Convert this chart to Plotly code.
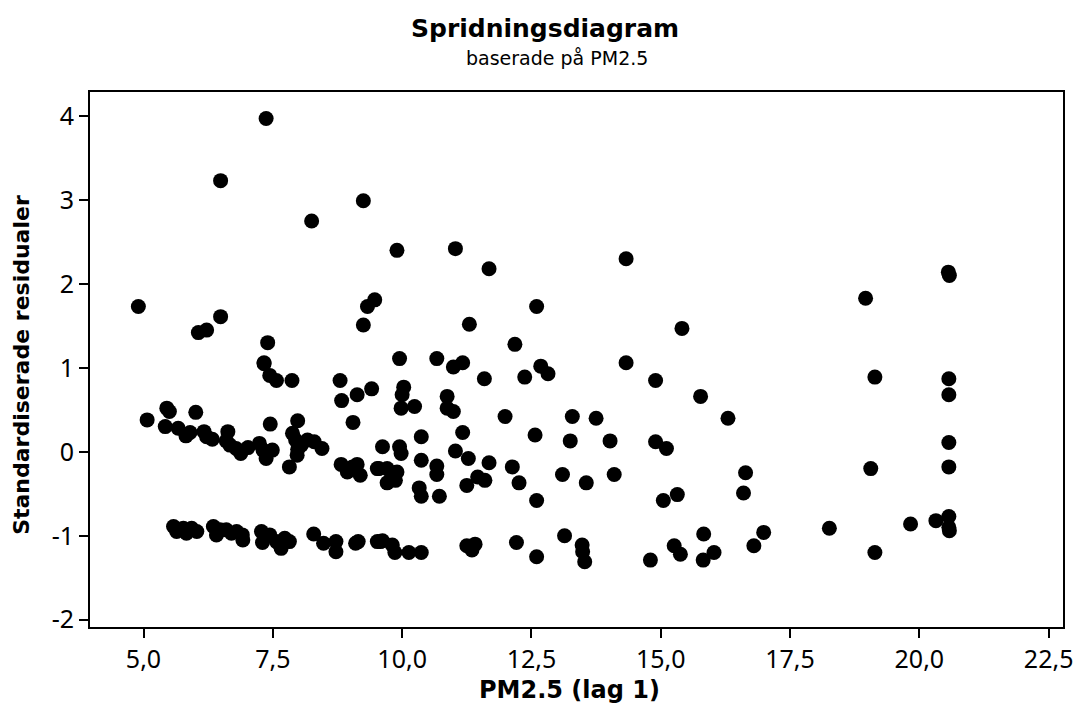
import plotly.graph_objects as go

# PM2.5 (lag 1) values and standardized residuals
pm25 = [
    7.37, 6.49, 9.25, 8.25, 4.90, 6.49, 6.06, 6.22, 7.40, 7.33, 9.25, 9.33, 9.47,
    9.90, 11.03, 11.68, 14.33, 12.60, 11.30, 15.41, 12.18, 9.95, 10.67, 11.17, 10.99,
    12.68, 12.82, 14.33, 20.56, 20.58, 18.96,
    19.14, 20.57, 20.57, 15.77, 16.30, 20.57, 20.57, 19.06, 16.64, 16.60,
    20.57, 20.32, 20.57, 20.58, 19.83, 18.26, 16.99, 16.80, 15.83, 16.03, 15.82, 19.14,
    11.59, 12.37, 14.90,
    10.03, 10.00, 9.98, 10.24, 10.87, 10.87, 10.99, 11.99, 13.29, 13.75, 11.17, 12.57,
    13.25, 14.02, 14.90, 15.11, 10.37, 9.62, 9.95, 9.98, 11.03, 10.37, 11.28, 10.67,
    10.67, 11.68, 12.13, 9.55, 9.71, 9.90, 9.81, 9.71, 9.87, 13.10, 14.10, 11.46,
    11.60, 11.25, 12.26, 13.56, 10.33, 10.37, 10.72, 12.60, 15.32, 15.05,
    9.58, 9.62, 9.81, 9.86, 10.13, 10.37, 11.25, 11.41, 11.35, 12.21, 12.60, 13.14,
    13.48, 13.49, 13.53, 14.80, 15.26, 15.38,
    7.33, 7.44, 7.57, 7.87, 8.80, 8.83, 9.13, 9.41, 9.05, 5.07, 5.45, 5.50, 6.01,
    5.42, 5.67, 5.82, 5.90, 6.17, 6.33, 6.22, 6.63, 6.60, 6.67, 6.79, 6.88, 7.02,
    7.24, 7.31, 7.37, 7.49, 7.45, 7.98, 7.88, 7.94, 7.98, 8.05, 8.17, 8.30, 8.45,
    7.97, 7.82, 8.82, 8.94, 9.13, 9.19, 9.04, 9.52,
    5.58, 5.64, 5.77, 5.83, 5.93, 6.03, 6.35, 6.41, 6.48, 6.60, 6.70, 6.80, 6.91, 6.92,
    7.28, 7.30, 7.44, 7.57, 7.66, 7.73, 7.82, 8.29, 8.48, 8.72, 8.72, 9.10, 9.15, 9.52,
]
residuals = [
    3.97, 3.23, 2.99, 2.75, 1.73, 1.61, 1.42, 1.45, 1.30, 1.06, 1.51, 1.73, 1.81,
    2.40, 2.42, 2.18, 2.30, 1.73, 1.52, 1.47, 1.28, 1.11, 1.11, 1.06, 1.01,
    1.02, 0.93, 1.06, 2.14, 2.10, 1.83,
    0.89, 0.87, 0.68, 0.66, 0.40, 0.11, -0.18, -0.20, -0.25, -0.49,
    -0.77, -0.82, -0.90, -0.94, -0.86, -0.91, -0.96, -1.12, -0.98, -1.20, -1.29, -1.20,
    0.87, 0.89, 0.85,
    0.77, 0.68, 0.52, 0.54, 0.66, 0.52, 0.48, 0.42, 0.42, 0.40, 0.23, 0.20,
    0.13, 0.13, 0.12, 0.04, 0.18, 0.06, 0.06, -0.02, 0.01, -0.10, -0.08, -0.17,
    -0.27, -0.13, -0.18, -0.20, -0.20, -0.24, -0.28, -0.37, -0.34, -0.27, -0.27, -0.30,
    -0.34, -0.40, -0.37, -0.37, -0.43, -0.53, -0.53, -0.58, -0.51, -0.58,
    -1.07, -1.06, -1.11, -1.20, -1.20, -1.20, -1.12, -1.10, -1.17, -1.08, -1.25, -1.00,
    -1.11, -1.19, -1.31, -1.29, -1.12, -1.22,
    1.05, 0.91, 0.85, 0.85, 0.85, 0.61, 0.68, 0.75, 0.35, 0.38, 0.52, 0.48, 0.47,
    0.30, 0.28, 0.19, 0.23, 0.24, 0.15, 0.18, 0.24, 0.13, 0.08, 0.04, -0.02, 0.05,
    0.10, 0.02, -0.08, 0.02, 0.33, 0.37, 0.22, 0.14, 0.03, 0.08, 0.14, 0.12, 0.04,
    -0.04, -0.18, -0.15, -0.24, -0.15, -0.28, -0.18, -0.20,
    -0.89, -0.95, -0.91, -0.97, -0.91, -0.95, -0.89, -0.99, -0.93, -0.93, -0.97, -0.95, -0.99, -1.05,
    -0.95, -1.08, -0.99, -1.07, -1.15, -1.03, -1.07, -0.98, -1.09, -1.07, -1.19, -1.09, -1.07, -1.07,
]

x_ticks = [5.0, 7.5, 10.0, 12.5, 15.0, 17.5, 20.0, 22.5]
x_tick_labels = ["5,0", "7,5", "10,0", "12,5", "15,0", "17,5", "20,0", "22,5"]
y_ticks = [-2, -1, 0, 1, 2, 3, 4]
y_tick_labels = ["-2", "-1", "0", "1", "2", "3", "4"]

title_font = "DejaVu Sans, Verdana, sans-serif"
tick_font = "Noto Sans, Open Sans, sans-serif"

fig = go.Figure(
    go.Scatter(
        x=pm25,
        y=residuals,
        mode="markers",
        marker=dict(color="black", size=15, line=dict(width=0)),
        showlegend=False,
    )
)

# page body has an 8px margin, so the figure is sized/margined to compensate
fig.update_layout(
    width=1077,
    height=701,
    margin=dict(l=82, r=17, t=84, b=82),
    paper_bgcolor="white",
    plot_bgcolor="white",
    font=dict(family=tick_font, color="black", size=24),
)

fig.add_annotation(text="<b>Spridningsdiagram</b>", xref="paper", yref="paper",
                   x=0.468, y=1.0, yshift=64, xanchor="center", yanchor="middle",
                   showarrow=False, font=dict(size=25, family=title_font, color="black"))
fig.add_annotation(text="baserade på PM2.5", xref="paper", yref="paper",
                   x=0.48, y=1.0, yshift=34, xanchor="center", yanchor="middle",
                   showarrow=False, font=dict(size=19, family=title_font, color="black"))
fig.add_annotation(text="<b>PM2.5 (lag 1)</b>", xref="paper", yref="paper",
                   x=0.493, y=0.0, yshift=-63, xanchor="center", yanchor="middle",
                   showarrow=False, font=dict(size=24, family=title_font, color="black"))
fig.add_annotation(text="<b>Standardiserade residualer</b>", xref="paper", yref="paper",
                   x=0.0, xshift=-68, y=0.49, xanchor="center", yanchor="middle",
                   textangle=-90,
                   showarrow=False, font=dict(size=22, family=title_font, color="black"))

fig.update_xaxes(
    range=[3.965, 22.777],
    tickmode="array",
    tickvals=x_ticks,
    ticktext=x_tick_labels,
    ticks="outside", ticklen=9, tickwidth=1.5, tickcolor="black",
    showline=True, linecolor="black", linewidth=2, mirror=True,
    showgrid=False, zeroline=False,
    tickfont=dict(size=25, family=tick_font, color="black"),
)
fig.update_yaxes(
    range=[-2.087, 4.286],
    tickmode="array",
    tickvals=y_ticks,
    ticktext=y_tick_labels,
    ticks="outside", ticklen=9, tickwidth=1.5, tickcolor="black",
    showline=True, linecolor="black", linewidth=2, mirror=True,
    showgrid=False, zeroline=False,
    tickfont=dict(size=25, family=tick_font, color="black"),
)

fig.write_html("out.html")
